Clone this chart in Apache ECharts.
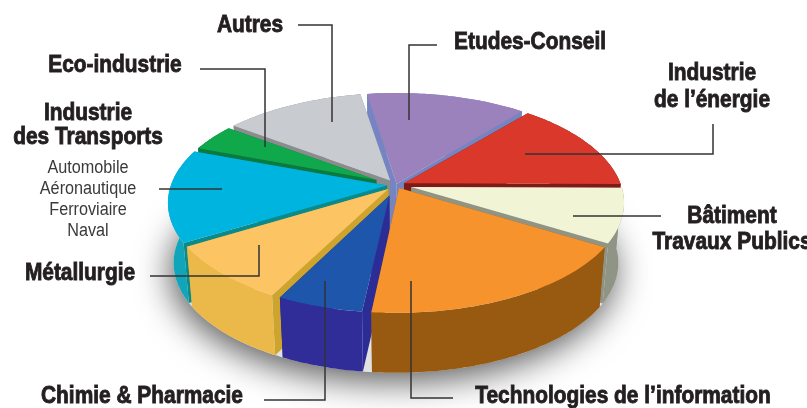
<!DOCTYPE html>
<html>
<head>
<meta charset="utf-8">
<style>
  html, body { margin: 0; padding: 0; background: #fff; }
  #chart { width: 807px; height: 408px; }
</style>
</head>
<body>
<div id="chart"></div>
<script src="https://cdn.jsdelivr.net/npm/echarts@6/dist/echarts.min.js"></script>
<script>
// parts of the pie, clockwise from the right edge (percent)
const sectors = ['Bâtiment Travaux Publics', 'Technologies de l’information', 'Chimie & Pharmacie', 'Métallurgie',
  'Industrie des Transports', 'Eco-industrie', 'Autres', 'Etudes-Conseil', 'Industrie de l’énergie']
const shares = [8.5, 18.1, 5.8, 8.9, 14.2, 4.5, 12.2, 13.8, 14.0]

const topColors = ['#f2f4d6', '#f7932d', '#1d56ab', '#fcc463', '#00b4e0', '#0fa84a', '#c8cbd0', '#9c82bc', '#d9382a']
const wallColors = ['#8f9484', '#985a10', '#302d99', '#eab94a', '#10a5b8', '#0a7a40', '#8a8c8e', '#7585c4', '#7e1a17']
const cutColors = ['#8f9484', '#985a10', '#2c2c96', '#cda42e', '#0a8a8a', '#0a7a40', '#8a8c8e', '#7585c4', '#7e1a17']
// how far the point of each slice is pushed out from the centre
const explode = [0.07, 0.03, 0.1, 0.05, 0.04, 0.1, 0.05, 0.01, 0.04]
// back to front
const paintOrder = [7, 6, 8, 5, 0, 4, 3, 2, 1]

// tilted disc
const CX = 396
const CY = 185
const RX = 225
const RY = 107
const PERSP = 0.163
const DEPTH = 60
const BASE_SCALE = 0.975
const START = 0.5
const GAP = 1

function topPoint(deg, r) {
  const a = deg * Math.PI / 180
  const u = Math.cos(a) * r
  const v = Math.sin(a) * r
  const s = 1 / (1 - PERSP * v)
  return [CX + RX * u * s, CY + RY * v * s]
}
function basePoint(p) {
  return [CX + (p[0] - CX) * BASE_SCALE, p[1] + DEPTH]
}
function arc(from, to) {
  const pts = []
  const n = Math.ceil(Math.abs(to - from))
  for (let i = 0; i <= n; i++) {
    pts.push(topPoint(from + (to - from) * i / n, 1))
  }
  return pts
}

const total = shares.reduce((a, b) => a + b, 0)
const ranges = []
let cursor = START
shares.forEach(v => {
  const span = v / total * 360
  ranges.push([cursor, cursor + span])
  cursor += span
})

function poly(points, fill) {
  return { type: 'polygon', shape: { points: points }, style: { fill: fill } }
}

function renderSlice(params, api) {
  const i = api.value(1)
  const from = ranges[i][0] + GAP
  const to = ranges[i][1] - GAP
  const apex = topPoint((from + to) / 2, explode[i])
  const rim = arc(from, to)
  const first = rim[0]
  const last = rim[rim.length - 1]
  return {
    type: 'group',
    children: [
      poly([apex, first, basePoint(first), basePoint(apex)], cutColors[i]),
      poly([apex, last, basePoint(last), basePoint(apex)], cutColors[i]),
      poly(rim.concat(rim.map(basePoint).reverse()), wallColors[i]),
      poly([apex].concat(rim), topColors[i])
    ]
  }
}

function renderShadow(params, api) {
  const outline = arc(0, 360).map(basePoint)
  return {
    type: 'polygon',
    shape: { points: outline },
    style: { fill: '#e2e2e2', shadowBlur: 34, shadowColor: 'rgba(0,0,0,0.65)', shadowOffsetX: -3, shadowOffsetY: 9 }
  }
}

const sliceData = paintOrder.map(i => ({ name: sectors[i], value: [shares[i], i] }))

// label lines
const leaders = [
  [[298, 25], [332, 25], [332, 122]],
  [[200, 69], [265, 69], [265, 147]],
  [[159, 189], [222, 189]],
  [[150, 276], [259, 276], [259, 245]],
  [[264, 400], [325, 400], [325, 281]],
  [[453, 398], [411, 398], [411, 281]],
  [[661, 216], [573, 216]],
  [[525, 154], [713, 154], [713, 124]],
  [[437, 45], [409, 45], [409, 120]]
]

const boldLabels = [
  ['Autres', 250, 25],
  ['Eco-industrie', 115, 65],
  ['Industrie', 88, 113],
  ['des Transports', 88, 137],
  ['Etudes-Conseil', 530, 42],
  ['Industrie', 712, 73],
  ['de l’énergie', 712, 100],
  ['Bâtiment', 732, 216],
  ['Travaux Publics', 732, 242],
  ['Métallurgie', 80, 273],
  ['Chimie & Pharmacie', 142, 396],
  ['Technologies de l’information', 623, 396]
]
const subLabels = [
  ['Automobile', 88, 168],
  ['Aéronautique', 88, 189],
  ['Ferroviaire', 88, 210],
  ['Naval', 88, 231]
]

const graphics = []
leaders.forEach(pts => {
  graphics.push({
    type: 'polyline', z: 50, silent: true,
    shape: { points: pts },
    style: { stroke: '#333', lineWidth: 1.5, fill: null }
  })
})
// no condensed face is installed, so the plain one is squeezed
boldLabels.forEach(l => {
  graphics.push({
    type: 'text', z: 60, silent: true, x: l[1], y: l[2], scaleX: 0.87,
    style: {
      text: l[0], fill: '#231f20', stroke: '#231f20', lineWidth: 0.9,
      font: 'bold 24px "Liberation Sans", sans-serif',
      textAlign: 'center', textVerticalAlign: 'middle'
    }
  })
})
subLabels.forEach(l => {
  graphics.push({
    type: 'text', z: 60, silent: true, x: l[1], y: l[2], scaleX: 0.9,
    style: {
      text: l[0], fill: '#3a3a3a',
      font: '18px "Liberation Sans", sans-serif',
      textAlign: 'center', textVerticalAlign: 'middle'
    }
  })
})

const chart = echarts.init(document.getElementById('chart'))
chart.setOption({
  animation: false,
  backgroundColor: '#fff',
  graphic: graphics,
  series: [
    { type: 'custom', coordinateSystem: 'none', silent: true, z: 1, renderItem: renderShadow, data: [[0]] },
    { type: 'custom', coordinateSystem: 'none', silent: true, z: 2, renderItem: renderSlice, data: sliceData }
  ]
})
</script>
</body>
</html>
